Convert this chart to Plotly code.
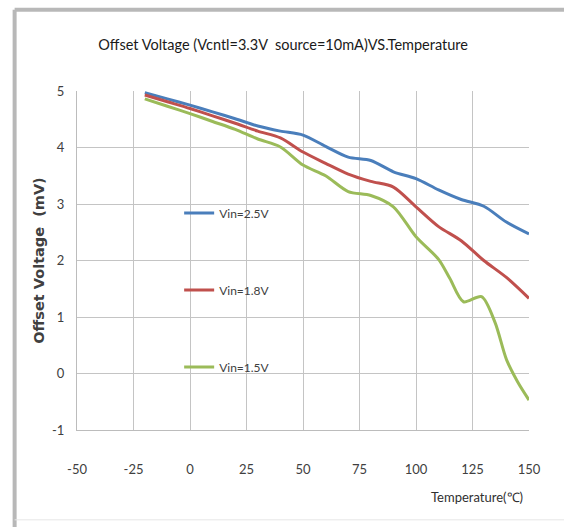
import plotly.graph_objects as go

# Measured offset voltage (mV) versus ambient temperature (°C)
temp_25 = [-20, -10, 0, 10, 20, 30, 40, 50, 60, 70, 80, 90, 100, 110, 120, 130, 140, 150]
vin_25 = [4.97, 4.86, 4.75, 4.63, 4.51, 4.38, 4.29, 4.22, 4.02, 3.83, 3.77, 3.57, 3.45, 3.25, 3.08, 2.96, 2.68, 2.47]

temp_18 = [-20, -10, 0, 10, 20, 30, 40, 50, 60, 70, 80, 90, 100, 110, 120, 130, 140, 150]
vin_18 = [4.93, 4.81, 4.69, 4.56, 4.43, 4.29, 4.17, 3.92, 3.72, 3.53, 3.40, 3.30, 2.95, 2.60, 2.35, 2.00, 1.70, 1.33]

temp_15 = [-20, -10, 0, 10, 20, 30, 40, 50, 60, 70, 80, 90, 100, 110, 115, 121, 129, 135, 140, 145, 150]
vin_15 = [4.86, 4.73, 4.60, 4.46, 4.32, 4.15, 4.01, 3.69, 3.50, 3.22, 3.15, 2.95, 2.42, 2.02, 1.68, 1.27, 1.36, 0.90, 0.25, -0.15, -0.47]

x_ticks = [-50, -25, 0, 25, 50, 75, 100, 125, 150]
y_ticks = [-1, 0, 1, 2, 3, 4, 5]

series = [
    ("Vin=2.5V", temp_25, vin_25, "#4a7ebb", "legend", 0.64),
    ("Vin=1.8V", temp_18, vin_18, "#c0504d", "legend2", 0.413),
    ("Vin=1.5V", temp_15, vin_15, "#9bbb59", "legend3", 0.186),
]

FONT = "Lato, Liberation Sans, sans-serif"

fig = go.Figure()
for name, xs, ys, color, leg, _ in series:
    fig.add_trace(go.Scatter(
        x=xs, y=ys, name=name, mode="lines",
        line=dict(color=color, width=3, shape="spline", smoothing=0.8),
        legend=leg,
    ))

legend_style = dict(
    bgcolor="rgba(0,0,0,0)", borderwidth=0, x=0.226, xanchor="left",
    yanchor="middle", font=dict(family=FONT, size=12, color="#404040"),
    itemwidth=30,
)
layout_legends = {}
for name, _, _, _, leg, ypos in series:
    layout_legends[leg] = dict(legend_style, y=ypos)

axis_common = dict(
    showgrid=True, gridcolor="#c4c4c4", gridwidth=1,
    showline=True, linecolor="#bcbcbc", linewidth=1,
    zeroline=False, ticks="outside", tickcolor="rgba(0,0,0,0)",
    tickfont=dict(family=FONT, size=13, color="#404040"),
)

fig.update_layout(
    width=564, height=527,
    margin=dict(l=77, r=35, t=91, b=97),
    paper_bgcolor="white", plot_bgcolor="white",
    showlegend=True,
    title=dict(
        text="Offset Voltage (Vcntl=3.3V  source=10mA)VS.Temperature",
        x=0.456, xref="paper", xanchor="center",
        y=1 - 45 / 527, yref="container", yanchor="middle",
        font=dict(family=FONT, size=14.5, color="#1a1a1a"),
    ),
    xaxis=dict(
        axis_common, range=[-50, 150], tickmode="array", tickvals=x_ticks,
        ticktext=[str(t) for t in x_ticks], ticklen=27,
    ),
    yaxis=dict(
        axis_common, range=[-1, 5], tickmode="array", tickvals=y_ticks,
        ticktext=[str(t) for t in y_ticks], ticklen=9,
        title=dict(
            text="Offset Voltage  (mV)", standoff=3,
            font=dict(family="DejaVu Sans", size=14.5, color="#404040", weight="bold"),
        ),
    ),
    annotations=[dict(
        text="Temperature(℃)", x=0.885, y=-0.198, xref="paper", yref="paper",
        xanchor="center", yanchor="middle", showarrow=False,
        font=dict(family=FONT, size=13, color="#303030"),
    )],
    shapes=[
        # outer frame: heavy left and top edges, faint bottom edge
        dict(type="line", xref="paper", yref="paper", x0=-0.138, x1=-0.138,
             y0=1.24, y1=-0.3, line=dict(color="#b8b8b8", width=4)),
        dict(type="line", xref="paper", yref="paper", x0=-0.138, x1=1.2,
             y0=1.24, y1=1.24, line=dict(color="#b8b8b8", width=4)),
        dict(type="line", xref="paper", yref="paper", x0=-0.138, x1=1.2,
             y0=-0.265, y1=-0.265, line=dict(color="#e6e6e6", width=1)),
    ],
    **layout_legends,
)

fig.write_html("out.html")
